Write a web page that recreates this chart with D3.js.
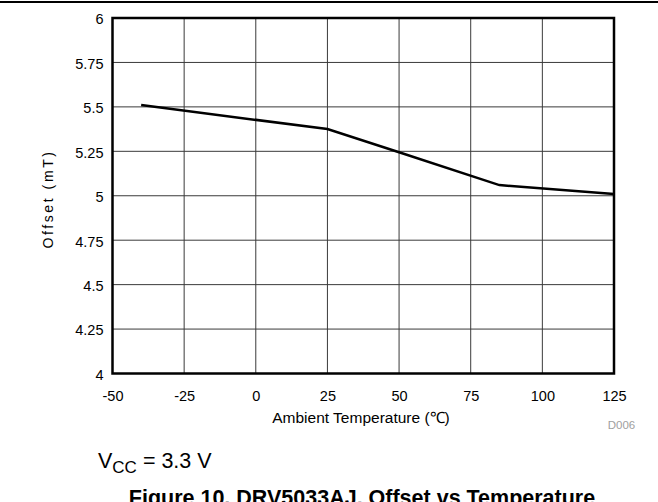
<!DOCTYPE html>
<html>
  <head>
    <meta charset="UTF-8">
    <style>
      body { margin: 0; background: #fff; }
      svg text { font-family: "Liberation Sans", Arial, sans-serif; }
    </style>
  </head>
  <body>
    <svg width="658" height="502" id="svgid"></svg>
    <script src="https://d3js.org/d3.v7.min.js"></script>
    <script>
      // readings
      var temps = [-40, 25, 50, 85, 125];
      var offsets = [5.51, 5.375, 5.245, 5.06, 5.01];
      var xTicks = [-50, -25, 0, 25, 50, 75, 100, 125];
      var yTicks = [4, 4.25, 4.5, 4.75, 5, 5.25, 5.5, 5.75, 6];

      var svg = d3.select("#svgid");
      var pLeft = 112.5, pRight = 614, pTop = 18, pBottom = 373.5;

      var x = d3.scaleLinear().domain([-50, 125]).range([pLeft, pRight]);
      var y = d3.scaleLinear().domain([4, 6]).range([pBottom, pTop]);

      // rule across the top of the page
      svg.append("line")
          .attr("x1", 0).attr("x2", 658).attr("y1", 2).attr("y2", 2)
          .attr("stroke", "#000").attr("stroke-width", 2);

      // grid
      svg.append("g").selectAll("line")
        .data(xTicks.slice(1, -1))
        .enter().append("line")
          .attr("x1", function(d) { return x(d); })
          .attr("x2", function(d) { return x(d); })
          .attr("y1", pTop).attr("y2", pBottom)
          .attr("stroke", "#3a3a3a").attr("stroke-width", 1);
      svg.append("g").selectAll("line")
        .data(yTicks.slice(1, -1))
        .enter().append("line")
          .attr("x1", pLeft).attr("x2", pRight)
          .attr("y1", function(d) { return y(d); })
          .attr("y2", function(d) { return y(d); })
          .attr("stroke", "#3a3a3a").attr("stroke-width", 1);

      // axes (labels only)
      var xAxis = svg.append("g")
          .attr("transform", "translate(0," + pBottom + ")")
          .call(d3.axisBottom(x).tickValues(xTicks).tickSize(0).tickPadding(17).tickFormat(function(d) { return String(d); }));
      var yAxis = svg.append("g")
          .attr("transform", "translate(" + pLeft + ",0)")
          .call(d3.axisLeft(y).tickValues(yTicks).tickSize(0).tickPadding(9).tickFormat(function(d) { return String(d); }));
      [xAxis, yAxis].forEach(function(a) {
        a.select(".domain").remove();
        a.selectAll("text").attr("font-size", 14.5).attr("fill", "#000")
          .style("font-family", "'Liberation Sans', Arial, sans-serif");
      });
      yAxis.selectAll("text").attr("dy", "0.4em");

      // frame
      svg.append("rect")
          .attr("x", pLeft).attr("y", pTop)
          .attr("width", pRight - pLeft).attr("height", pBottom - pTop)
          .attr("fill", "none").attr("stroke", "#000").attr("stroke-width", 2.5);

      // data line
      var line = d3.line()
          .x(function(d) { return x(d[0]); })
          .y(function(d) { return y(d[1]); });
      svg.append("path")
          .datum(temps.map(function(t, i) { return [t, offsets[i]]; }))
          .attr("d", line)
          .attr("fill", "none").attr("stroke", "#000").attr("stroke-width", 2.5);

      // titles
      svg.append("text")
          .attr("transform", "translate(53,199) rotate(-90)")
          .attr("text-anchor", "middle").attr("font-size", 14)
          .attr("letter-spacing", 2.6)
          .text("Offset (mT)");
      svg.append("text")
          .attr("x", 361).attr("y", 423)
          .attr("text-anchor", "middle").attr("font-size", 15.5)
          .text("Ambient Temperature (\u2103)");
      svg.append("text")
          .attr("x", 621.5).attr("y", 429)
          .attr("text-anchor", "middle").attr("font-size", 11.5).attr("fill", "#a0a0a0")
          .text("D006");

      var vcc = svg.append("text")
          .attr("x", 98).attr("y", 468).attr("font-size", 21.5);
      vcc.append("tspan").text("V");
      vcc.append("tspan").attr("font-size", 17).attr("dy", 5).text("CC");
      vcc.append("tspan").attr("dy", -5).text(" = 3.3 V");

      svg.append("text")
          .attr("x", 362).attr("y", 505)
          .attr("text-anchor", "middle").attr("font-size", 21.5).attr("font-weight", "bold")
          .text("Figure 10. DRV5033AJ, Offset vs Temperature");
    </script>
  </body>
</html>
